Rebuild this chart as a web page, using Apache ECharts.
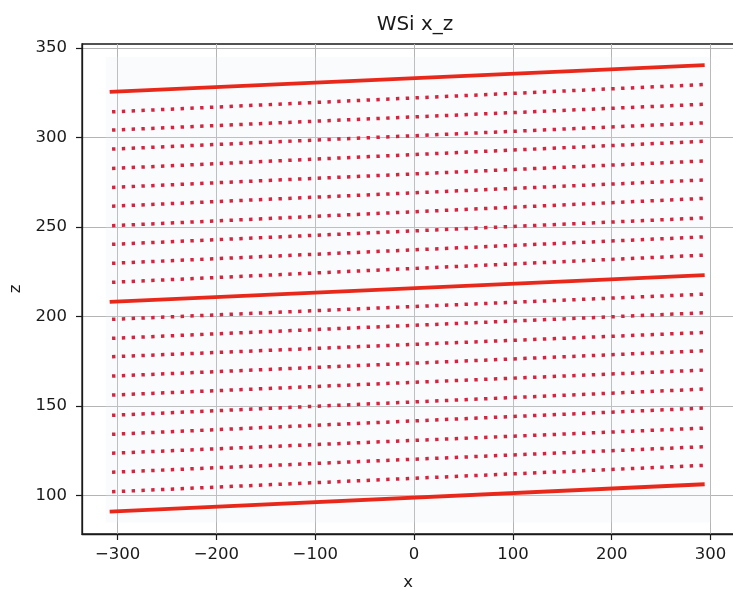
<!DOCTYPE html>
<html>
<head>
<meta charset="utf-8">
<title>WSi x_z</title>
<script src="https://cdn.jsdelivr.net/npm/echarts@6/dist/echarts.min.js"></script>
<style>
  html, body { margin: 0; padding: 0; background: #ffffff; }
  #chart { width: 733px; height: 589px; }
</style>
</head>
<body>
<div id="chart"></div>
<script>
// Layer heights (z) at the left and right ends of each row, bottom to top.
const layerZLeft = [
  91.1, 102.2, 113.1, 123.7, 134.3, 144.9, 156.2, 166.8, 177.6, 187.9, 198.5,
  208.3, 219.2, 229.8, 240.4, 250.8, 261.7, 272.2, 282.8, 293.6, 304.2, 314.4,
  325.6
];
const layerZRight = [
  106.4, 117.0, 127.4, 137.8, 149.0, 159.6, 170.2, 181.0, 191.2, 202.2, 212.6,
  223.2, 234.4, 244.6, 255.2, 266.1, 276.4, 287.0, 298.0, 308.3, 318.7, 329.7,
  340.5
];
// Rows that are sampled continuously (drawn solid); the others are sparse dots.
const solidLayers = [0, 11, 22];
// x extents of the rows
const solidXRange = [-308, 294];
const dottedXRange = [-305.6, 295];
// Axis ticks
const xTicks = [-300, -200, -100, 0, 100, 200, 300];
const zTicks = [100, 150, 200, 250, 300, 350];
const xLimits = [-336, 324];
const zLimits = [78.6, 352.3];

const chart = echarts.init(document.getElementById('chart'), null, { renderer: 'canvas' });

const FONT = 'DejaVu Sans';
const minus = v => String(v).replace('-', '\u2212');

const series = layerZLeft.map((zl, i) => {
  const solid = solidLayers.includes(i);
  const xr = solid ? solidXRange : dottedXRange;
  return {
    type: 'line',
    name: 'layer' + i,
    data: [[xr[0], zl], [xr[1], layerZRight[i]]],
    showSymbol: false,
    symbol: 'none',
    silent: true,
    z: solid ? 4 : 3,
    lineStyle: solid
      ? { color: '#e8281a', width: 3.8, cap: 'butt' }
      : { color: '#d4243f', width: 3.5, type: [3.4, 6.4], cap: 'butt' }
  };
});

// faint haze behind the sampled region
series.push({
  type: 'line',
  name: 'haze',
  data: [],
  silent: true,
  z: 1,
  markArea: {
    silent: true,
    itemStyle: { color: 'rgba(226,236,242,0.2)' },
    data: [[{ coord: [-312, 85] }, { coord: [300, 345] }]]
  }
});

chart.setOption({
  animation: false,
  backgroundColor: '#ffffff',
  title: {
    text: 'WSi x_z',
    left: 410,
    top: 10,
    textAlign: 'center',
    textStyle: { fontFamily: FONT, fontSize: 20, fontWeight: 'normal', color: '#1a1a1a' }
  },
  grid: {
    left: 82,
    top: 44,
    right: -1.3,
    bottom: 55,
    containLabel: false,
    outerBoundsMode: 'none',
    show: true,
    borderColor: '#1a1a1a',
    borderWidth: 1.3,
    backgroundColor: 'transparent'
  },
  xAxis: {
    type: 'value',
    min: xLimits[0],
    max: xLimits[1],
    name: 'x',
    nameLocation: 'middle',
    nameGap: 40,
    nameTextStyle: { fontFamily: FONT, fontSize: 16.5, color: '#1a1a1a' },
    axisLine: { show: true, onZero: false, lineStyle: { color: '#1a1a1a', width: 1.3 } },
    axisTick: { show: true, length: 6, customValues: xTicks, lineStyle: { color: '#1a1a1a', width: 1.2 } },
    axisLabel: {
      customValues: xTicks,
      margin: 12,
      fontFamily: FONT,
      fontSize: 16.5,
      color: '#1a1a1a',
      formatter: minus
    },
    splitLine: { show: true, lineStyle: { color: '#b4b4b4', width: 1 } }
  },
  yAxis: {
    type: 'value',
    min: zLimits[0],
    max: zLimits[1],
    name: 'z',
    nameLocation: 'middle',
    nameGap: 58,
    nameRotate: 90,
    nameTextStyle: { fontFamily: FONT, fontSize: 16.5, color: '#1a1a1a' },
    axisLine: { show: true, onZero: false, lineStyle: { color: '#1a1a1a', width: 1.3 } },
    axisTick: { show: true, length: 6, customValues: zTicks, lineStyle: { color: '#1a1a1a', width: 1.2 } },
    axisLabel: {
      customValues: zTicks,
      margin: 15,
      fontFamily: FONT,
      fontSize: 16.5,
      color: '#1a1a1a'
    },
    splitLine: { show: true, lineStyle: { color: '#b4b4b4', width: 1 } }
  },
  series: series
});
</script>
</body>
</html>
